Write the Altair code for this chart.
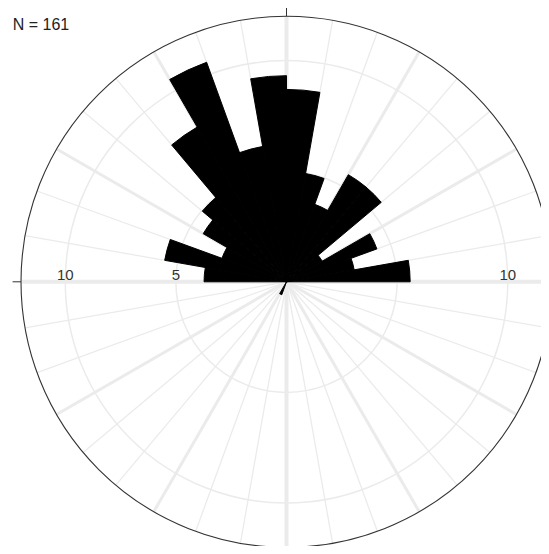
import math
import altair as alt
import pandas as pd

# ---- data (compass bins of 10 degrees, clockwise from north) ----
bin_start = list(range(0, 360, 10))
counts = [14, 8, 6, 9, 9, 3, 7, 5, 9,            # 0 .. 80
          0, 0, 0, 0, 0, 0, 0, 0, 0, 0, 0,       # 90 .. 190
          1, 0, 0, 0, 0, 0, 0,                   # 200 .. 260
          6, 9, 5, 7, 8, 13, 17, 10, 15]         # 270 .. 350

grid_radii = [5, 10]          # percent circles
outer_radius = [12]           # outer circle (percent)
spoke_angles = list(range(0, 360, 10))
tick_angles = [0, 90, 180, 270]
label_pos = [-10, -5, 10]
label_text = ["10", "5", "10"]

# ---- geometry ----
CX, CY = 278.5, 273.8
R = 265.5
RMAX = 12
TWO_PI = 2 * math.pi

rscale = alt.Scale(type="linear", domain=[0, RMAX], range=[0, R])
tscale = alt.Scale(domain=[0, 360], range=[0, TWO_PI])
xs = alt.Scale(domain=[-RMAX, RMAX], range=[CX - R, CX + R])
ys = alt.Scale(domain=[-RMAX, RMAX], range=[CY + R, CY - R])

bars_df = pd.DataFrame({"start": bin_start, "count": counts})

circles = alt.Chart(pd.DataFrame({"r": grid_radii})).mark_arc(
    fillOpacity=0, stroke="#ebebeb", strokeWidth=1.5
).encode(
    theta=alt.value(0), theta2=alt.value(TWO_PI),
    radius=alt.Radius("r:Q", scale=rscale, stack=False),
    x=alt.value(CX), y=alt.value(CY),
)

spokes = alt.Chart(pd.DataFrame({"a": spoke_angles})).transform_calculate(
    x0="0", y0="0",
    x1=f"{RMAX}*sin(datum.a*PI/180)",
    y1=f"{RMAX}*cos(datum.a*PI/180)",
    w="datum.a % 90 == 0 ? 4 : (datum.a % 30 == 0 ? 3 : 1.3)",
).mark_rule(color="#ebebeb").encode(
    x=alt.X("x0:Q", scale=xs, axis=None),
    y=alt.Y("y0:Q", scale=ys, axis=None),
    x2="x1:Q", y2="y1:Q",
    strokeWidth=alt.StrokeWidth("w:Q", scale=None),
)

outer = alt.Chart(pd.DataFrame({"r": outer_radius})).mark_arc(
    fillOpacity=0, stroke="#333333", strokeWidth=1.1
).encode(
    theta=alt.value(0), theta2=alt.value(TWO_PI),
    radius=alt.Radius("r:Q", scale=rscale, stack=False),
    x=alt.value(CX), y=alt.value(CY),
)

ticks = alt.Chart(pd.DataFrame({"a": tick_angles})).transform_calculate(
    x0=f"{RMAX}*sin(datum.a*PI/180)",
    y0=f"{RMAX}*cos(datum.a*PI/180)",
    x1=f"{RMAX + 0.38}*sin(datum.a*PI/180)",
    y1=f"{RMAX + 0.38}*cos(datum.a*PI/180)",
).mark_rule(color="#333333", strokeWidth=1).encode(
    x=alt.X("x0:Q", scale=xs, axis=None),
    y=alt.Y("y0:Q", scale=ys, axis=None),
    x2="x1:Q", y2="y1:Q",
)

bars = alt.Chart(bars_df).transform_joinaggregate(
    total="sum(count)"
).transform_calculate(
    pct="datum.count / datum.total * 100",
    end="datum.start + 10",
).transform_filter("datum.count > 0").mark_arc(
    fill="black", stroke="black", strokeWidth=1
).encode(
    theta=alt.Theta("start:Q", scale=tscale, stack=False),
    theta2="end:Q",
    radius=alt.Radius("pct:Q", scale=rscale, stack=False),
    x=alt.value(CX), y=alt.value(CY),
)

labels = alt.Chart(pd.DataFrame({"v": label_pos, "t": label_text})).transform_calculate(
    y0="0"
).mark_text(
    font="Liberation Sans", fontSize=15, color="#333333",
    baseline="alphabetic", dy=-2, align="center"
).encode(
    x=alt.X("v:Q", scale=xs, axis=None),
    y=alt.Y("y0:Q", scale=ys, axis=None),
    text="t:N",
)

ntext = alt.Chart(bars_df).transform_aggregate(
    total="sum(count)"
).transform_calculate(
    label='"N = " + datum.total'
).mark_text(
    font="Liberation Sans", fontSize=16, color="#222222",
    align="left", baseline="alphabetic"
).encode(
    text="label:N", x=alt.value(4.7), y=alt.value(22),
)

chart = alt.layer(circles, spokes, outer, ticks, bars, labels, ntext).properties(
    width=533, height=538, padding=0, autosize="none"
).configure_view(stroke=None)

chart.save("out.html", embed_options={"renderer": "svg", "actions": False})
